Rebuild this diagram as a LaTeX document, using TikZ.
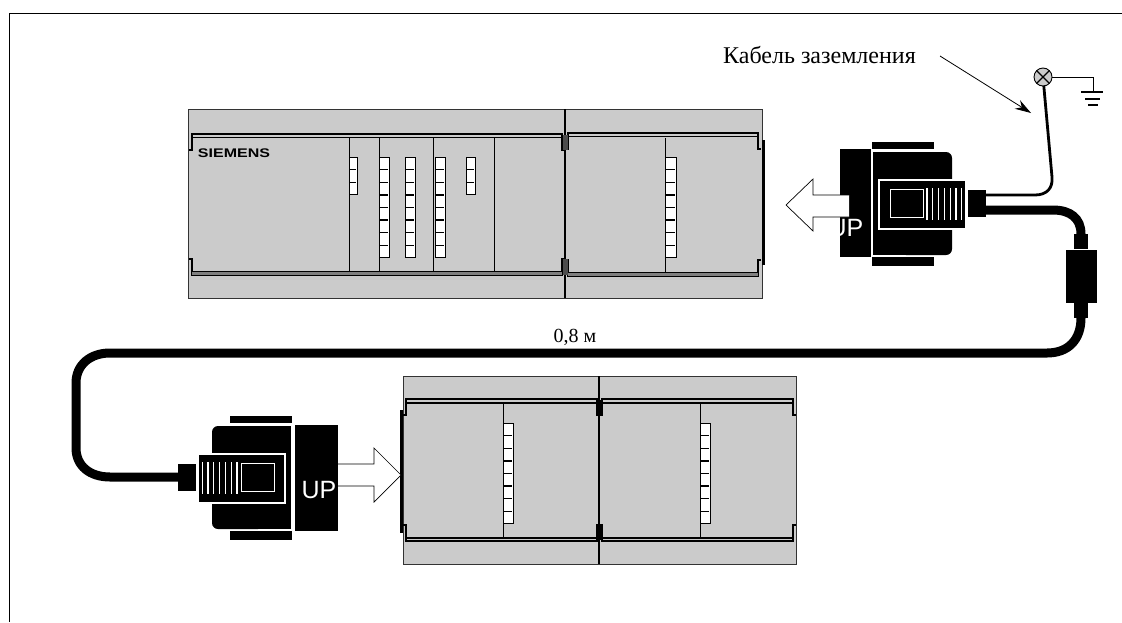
\documentclass[tikz,border=0pt]{standalone}
\usepackage{fontspec}
\setmainfont{Liberation Serif}
\setsansfont{Liberation Sans}
\usetikzlibrary{arrows.meta}

\definecolor{casegray}{HTML}{CBCBCB}
\definecolor{railgray}{HTML}{808080}

% one column of status lamps: x, top y, width, number of cells
\newcommand{\ledcol}[4]{
  \draw[lampbox] (#1,#2) rectangle ++(#3,{#4*12.6});
  \foreach \i in {1,...,\numexpr#4-1\relax}
    \draw[lampline] (#1,{#2+\i*12.6}) -- ++({#3-1.5},0);
}
% rail of a module with its four notches: left, right, top y, bottom y
\newcommand{\railslot}[4]{
  \draw[railline] (#1-3,#3+16) -- (#1,#3+16) -- (#1,#3) -- (#2,#3) -- (#2,#3+16) -- (#2+3,#3+16);
  \draw[railline] (#1,#3+3.5) -- (#2,#3+3.5);
  \draw[railline] (#1-3,#4-16) -- (#1,#4-16) -- (#1,#4) -- (#2,#4) -- (#2,#4-16) -- (#2+3,#4-16);
  \draw[railline] (#1,#4-3.5) -- (#2,#4-3.5);
}
% plug body, drawn as for the upper connector
\newcommand{\plugbody}{
  \fill (872,142) rectangle (934,149);
  \fill (872,257) rectangle (934,266);
  \fill[rounded corners=6] (900,152) -- (952,152) -- (952,255) -- (900,255) -- cycle;
  \fill (873,152) rectangle (910,255);
  \draw[white, thick] (871.5,150) -- (871.5,257);
  \draw[white, line width=1.1pt, fill=black] (879,180) rectangle (966,229);
  \draw[white] (890,189) rectangle (923,217);
  \foreach \i in {0,...,6}
    \draw[white, line width=1.1pt] ({927+\i*5.8},188) -- ({927+\i*5.8},220);
  \fill (968,190) rectangle (986,217);
}

\begin{document}
\begin{tikzpicture}[x=1pt, y=-1pt,
  lampbox/.style={draw=black, fill=white, line width=0.9pt},
  lampline/.style={black, line width=1.4pt},
  railline/.style={black, line width=1.1pt},
  case/.style={draw=black!80, fill=casegray, line width=1pt},
  divider/.style={black, line width=1pt},
  cable/.style={black, line width=9pt},
  thincable/.style={black, line width=2.8pt},
  bigarrow/.style={draw=black, fill=white, line width=0.7pt},
  uplabel/.style={font=\sffamily\fontsize{25}{25}\selectfont, text=white, inner sep=0pt}]
  \useasboundingbox (0,0) rectangle (1122,622);
  \draw[black, line width=0.8pt] (1122,13) -- (9,13) -- (9,622);

  % upper PLC
  \draw[case] (188,109) rectangle (565,298);
  \draw[case] (565,109) rectangle (762,298);
  \draw[black, line width=1.3pt] (565,109) -- (565,298);
  \railslot{192}{562}{134}{275}
  \fill[railgray] (192,272) rectangle (562,275);
  \begin{scope}[railline/.style={black, line width=1.6pt}]
    \railslot{568}{758}{133}{276}
  \end{scope}
  \fill[railgray] (568,273) rectangle (758,276);
  \fill[black!70] (563,135) rectangle (568,150);
  \fill[black!70] (563,259) rectangle (568,275);
  \foreach \x in {349,379,433,494,665}
    \draw[divider] (\x,138) -- (\x,272);
  \draw[black, line width=2.5pt] (763.5,140) -- (763.5,265);
  \node[font=\sffamily\bfseries\fontsize{12.5}{12.5}\selectfont, xscale=1.28, inner sep=0pt] (brand) at (234,153) {SIEMENS};
  \ledcol{349}{157}{8}{3}
  \ledcol{379}{157}{10}{8}
  \ledcol{405}{157}{10}{8}
  \ledcol{435}{157}{10}{8}
  \ledcol{466}{157}{9}{3}
  \ledcol{665}{157}{11}{8}

  % lower PLC
  \draw[case] (403,376) rectangle (599,564);
  \draw[case] (599,376) rectangle (796,564);
  \draw[black, line width=1.3pt] (599,376) -- (599,564);
  \begin{scope}[railline/.style={black, line width=2pt}]
    \railslot{406}{597}{399}{541}
    \railslot{602}{793}{399}{541}
  \end{scope}
  \foreach \x in {503,700}
    \draw[divider] (\x,403) -- (\x,537);
  \draw[black, line width=3pt] (401,410) -- (401,533);
  \fill (596,400) rectangle (603,415);
  \fill (596,524) rectangle (603,540);
  \ledcol{503}{423}{10}{8}
  \ledcol{700}{423}{10}{8}

  % cables
  \coordinate (upperplug) at (986,210);
  \coordinate (filterin) at (1081,234);
  \coordinate (filterout) at (1081,318);
  \coordinate (lowerplug) at (178,477);
  \coordinate (earthplug) at (986,195);
  \coordinate (lamp) at (1043,77);
  \draw[cable] (upperplug) -- (1053,210) .. controls (1070,210) and (1081,218) .. (filterin);
  \draw[cable] (filterout) .. controls (1081,340) and (1068,353) .. (1047,353) -- (110,353)
    .. controls (90,353) and (76,365) .. (76,383) -- (76,448)
    .. controls (76,466) and (90,477) .. (110,477) -- (lowerplug);
  \draw[thincable] (earthplug) -- (1035,195) .. controls (1047,195) and (1053,188) .. (1052,177) -- (lamp);

  % filter on the cable
  \fill (1074,234) rectangle (1088,249);
  \fill (1066,250) rectangle (1097,303);
  \fill (1074,303) rectangle (1088,318);

  % earth symbol
  \draw[black, line width=1pt] (lamp) -- (1093,77) -- (1093,92);
  \draw[black, line width=1.2pt] (1081,92) -- (1103,92);
  \draw[black, line width=1.2pt] (1085,99) -- (1100,99);
  \draw[black, line width=1.6pt] (1088,105) -- (1098,105);
  \draw[black, line width=0.9pt, fill=casegray] (lamp) circle (9);
  \draw[black, line width=1.2pt] (1036.6,70.6) -- (1049.4,83.4);
  \draw[black, line width=1.2pt] (1036.6,83.4) -- (1049.4,70.6);

  % upper connector
  \plugbody
  \fill (840,149) rectangle (871,257);
  \draw[bigarrow] (849,195) -- (813,195) -- (813,179) -- (786,205) -- (813,231) -- (813,217) -- (849,217);
  \node[uplabel] (upperup) at (846,228) {UP};

  % lower connector
  \begin{scope}[shift={(1164,274)}, xscale=-1]
    \plugbody
  \end{scope}
  \fill (295,425) rectangle (338,531);
  \node[uplabel] (lowerup) at (319,490) {UP};
  \draw[bigarrow] (338,464) -- (374,464) -- (374,448) -- (401,475) -- (374,502) -- (374,486) -- (338,486);

  % labels
  \node[font=\fontsize{24}{24}\selectfont, inner sep=0pt, anchor=base] (earthlabel) at (819.5,63) {Кабель заземления};
  \node[font=\fontsize{20}{20}\selectfont, inner sep=0pt, anchor=base] (lengthlabel) at (575,342) {0,8 м};
  \coordinate (calloutstart) at (940,56);
  \coordinate (callouttip) at (1031,113);
  \draw[-{Stealth[length=16pt, width=10pt]}, black, line width=0.8pt] (calloutstart) -- (callouttip);
\end{tikzpicture}
\end{document}
